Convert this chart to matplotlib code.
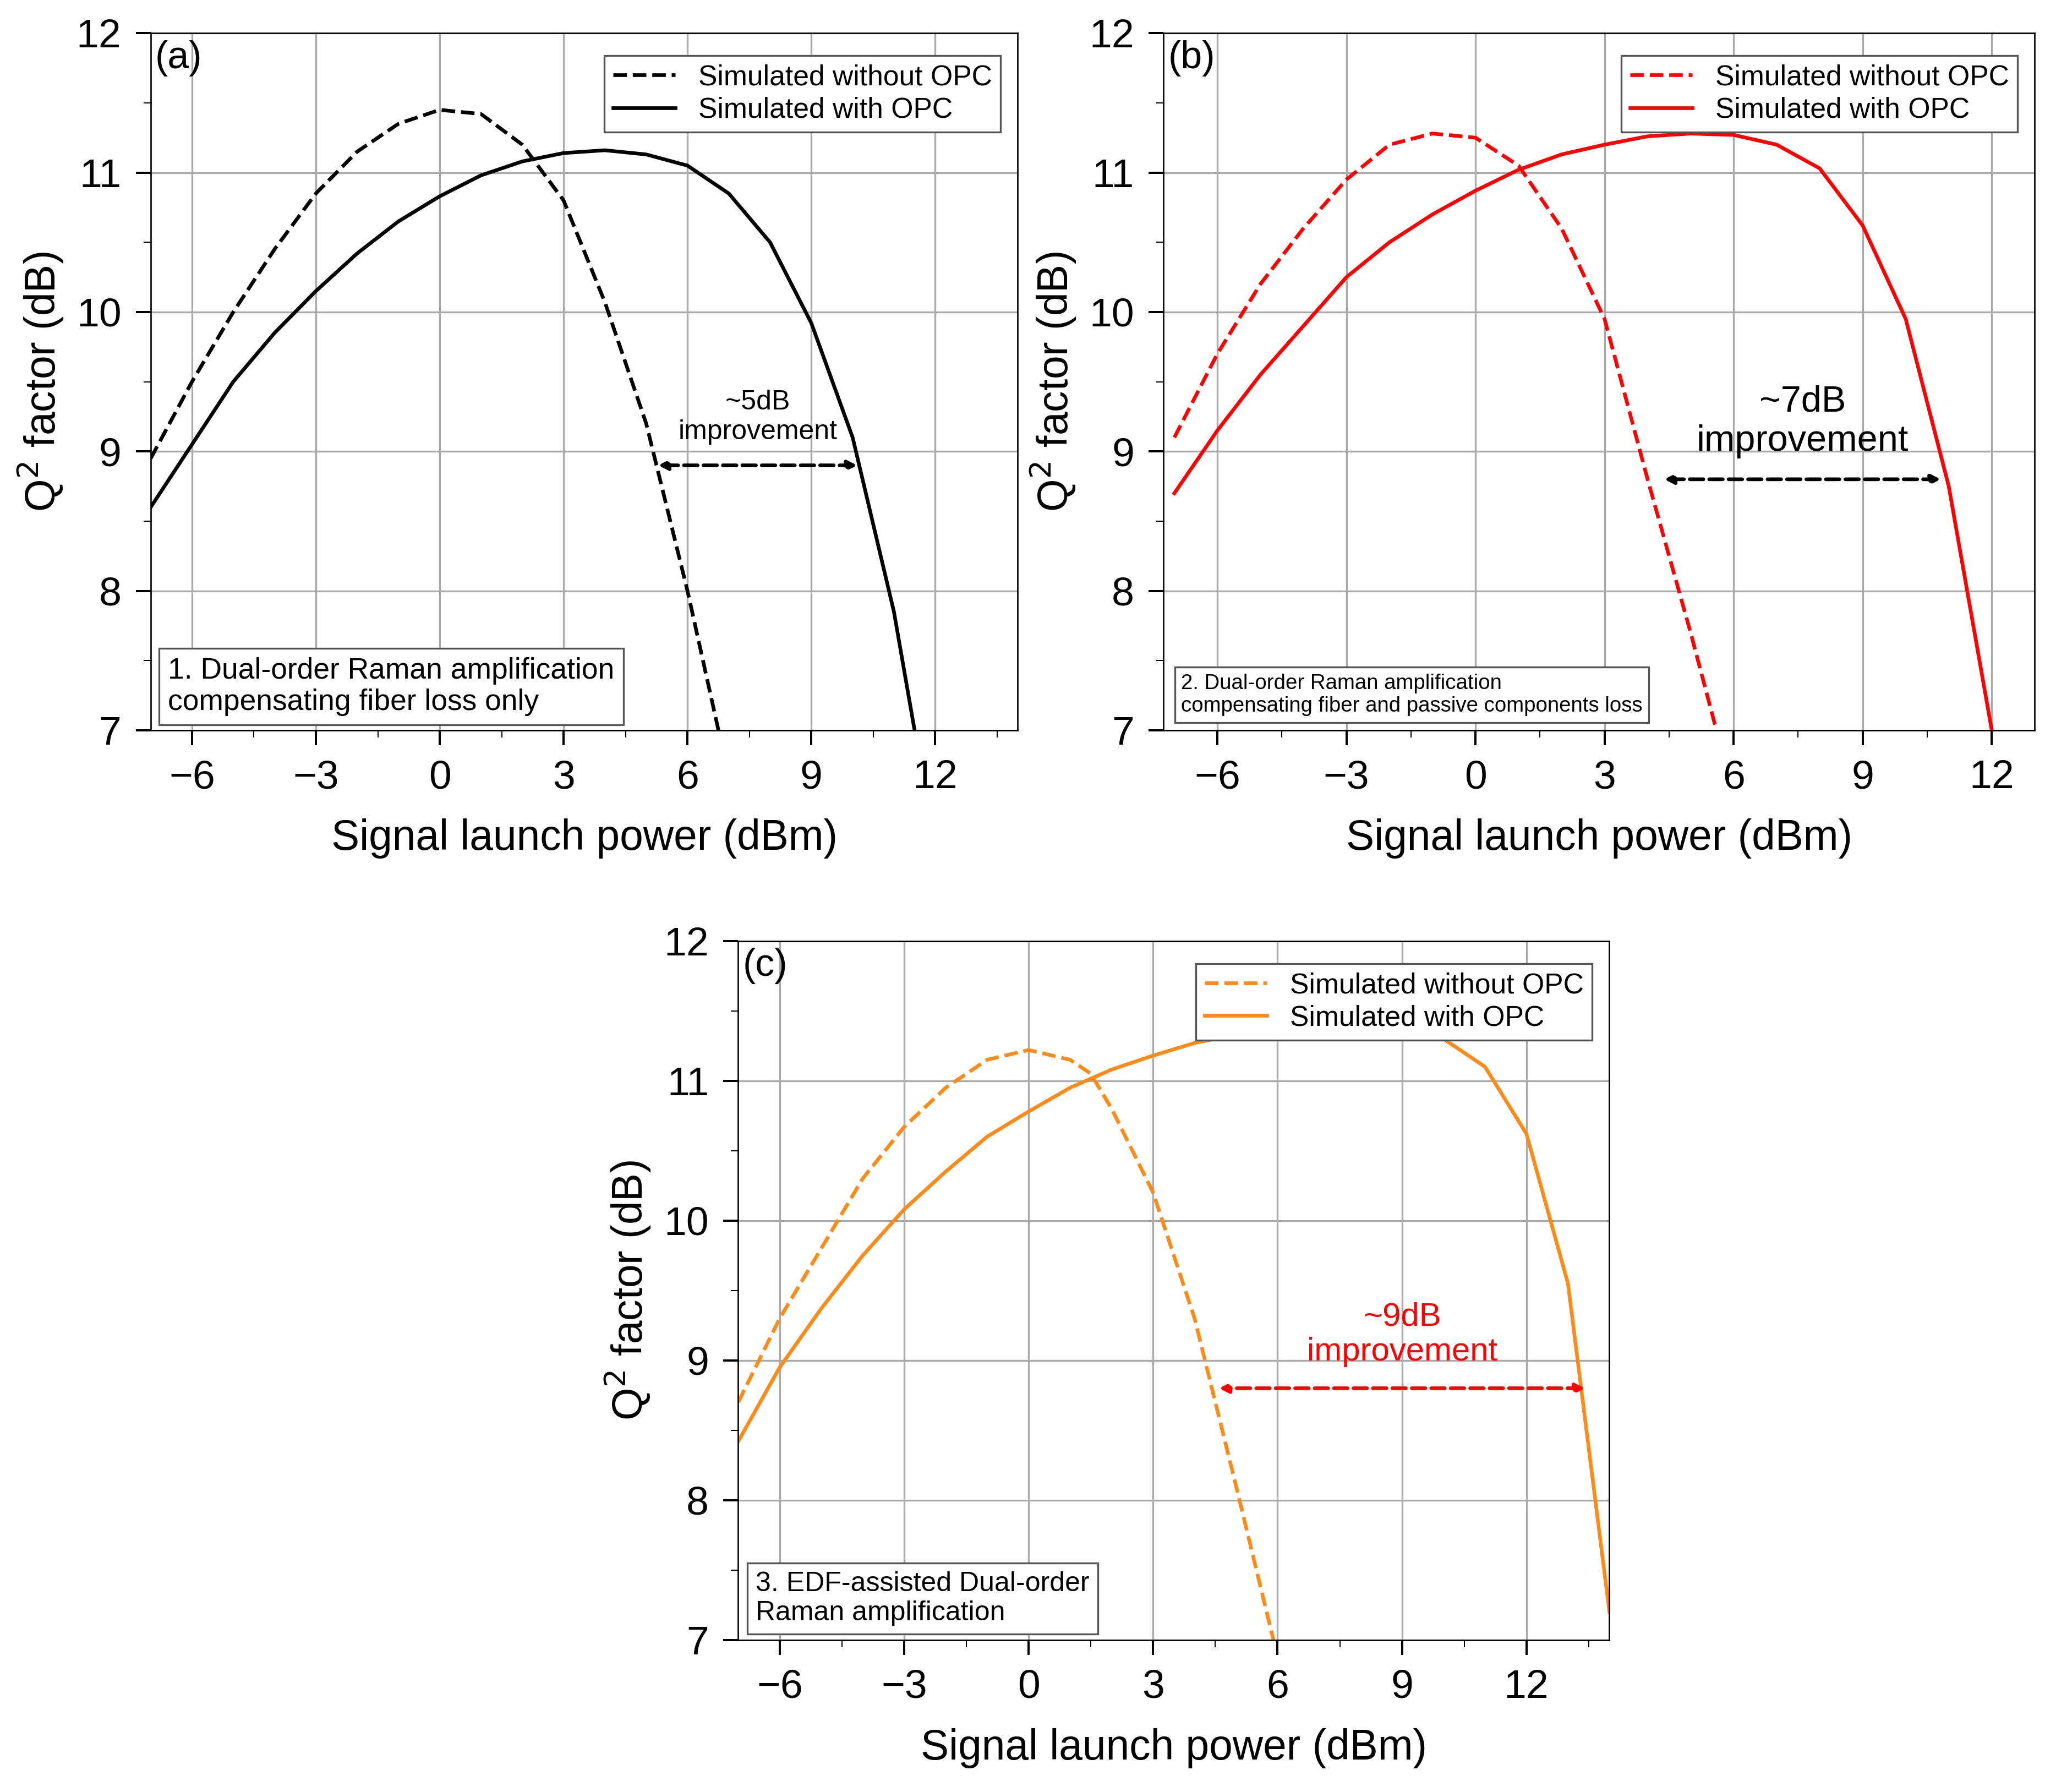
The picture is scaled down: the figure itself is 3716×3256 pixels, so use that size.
import numpy as np
import matplotlib.pyplot as plt
from matplotlib.ticker import MultipleLocator

plt.rcParams['font.family'] = ['Arial', 'Liberation Sans', 'DejaVu Sans']

# (a) 단일 패널 데이터
xa_wo = [-7, -6, -5, -4, -3, -2, -1, 0, 1, 2, 3, 4, 5, 6, 6.75]
ya_wo = [8.95, 9.5, 10.0, 10.45, 10.85, 11.15, 11.35, 11.45, 11.42, 11.2, 10.8, 10.07, 9.2, 8.0, 7.0]
xa_w = [-7, -6, -5, -4, -3, -2, -1, 0, 1, 2, 3, 4, 5, 6, 7, 8, 9, 10, 11, 11.5]
ya_w = [8.6, 9.05, 9.5, 9.85, 10.15, 10.42, 10.65, 10.83, 10.98, 11.08, 11.14, 11.16, 11.13,
        11.05, 10.85, 10.5, 9.92, 9.1, 7.85, 7.0]

# (b)
xb_wo = [-7, -6, -5, -4, -3, -2, -1, 0, 1, 2, 3, 4, 5, 5.6]
yb_wo = [9.1, 9.7, 10.2, 10.6, 10.95, 11.2, 11.28, 11.25, 11.05, 10.6, 9.95, 8.8, 7.7, 7.0]
xb_w = [-7, -6, -5, -4, -3, -2, -1, 0, 1, 2, 3, 4, 5, 6, 7, 8, 9, 10, 11, 12]
yb_w = [8.7, 9.15, 9.55, 9.9, 10.25, 10.5, 10.7, 10.87, 11.02, 11.13, 11.2, 11.26, 11.28,
        11.27, 11.2, 11.03, 10.62, 9.95, 8.75, 7.0]

# (c)
xc_wo = [-7, -6, -5, -4, -3, -2, -1, 0, 1, 1.5, 2, 3, 4, 5, 5.9]
yc_wo = [8.7, 9.3, 9.8, 10.3, 10.67, 10.95, 11.15, 11.22, 11.15, 11.05, 10.8, 10.2, 9.3, 8.1, 7.0]
xc_w = [-7, -6, -5, -4, -3, -2, -1, 0, 1, 2, 3, 4, 5, 6, 7, 8, 9, 10, 11, 12, 13, 14]
yc_w = [8.42, 8.95, 9.37, 9.75, 10.08, 10.35, 10.6, 10.78, 10.95, 11.08, 11.18, 11.27, 11.33,
        11.38, 11.41, 11.42, 11.4, 11.3, 11.1, 10.62, 9.55, 7.2]

fig = plt.figure(figsize=(3716 / 240, 3256 / 240), dpi=240)

panels = [
    ([0.0737, 0.5925, 0.424, 0.389], (-7, 14), 'black', xa_wo, ya_wo, xa_w, ya_w, '(a)',
     '1. Dual-order Raman amplification\ncompensating fiber loss only', 16,
     (5.2, 10.2, 8.9), '~5dB\nimprovement', 15, 'black'),
    ([0.569, 0.5925, 0.426, 0.389], (-7.25, 13), 'red', xb_wo, yb_wo, xb_w, yb_w, '(b)',
     '2. Dual-order Raman amplification\ncompensating fiber and passive components loss', 11.5,
     (4.3, 10.9, 8.8), '~7dB\nimprovement', 20, 'black'),
    ([0.361, 0.0849, 0.426, 0.39], (-7, 14), '#ff8c1a', xc_wo, yc_wo, xc_w, yc_w, '(c)',
     '3. EDF-assisted Dual-order\nRaman amplification', 15,
     (4.5, 13.5, 8.8), '~9dB\nimprovement', 18, 'red'),
]

for pos, xlim, col, x1, y1, x2, y2, tag, box, bfs, arr, atxt, afs, acol in panels:
    ax = fig.add_axes(pos)
    ax.plot(x1, y1, '--', color=col, lw=2, label='Simulated without OPC')
    ax.plot(x2, y2, '-', color=col, lw=2, label='Simulated with OPC')
    ax.set_xlim(*xlim)
    ax.set_ylim(7, 12)
    ax.xaxis.set_major_locator(MultipleLocator(3))
    ax.xaxis.set_minor_locator(MultipleLocator(1.5))
    ax.yaxis.set_major_locator(MultipleLocator(1))
    ax.yaxis.set_minor_locator(MultipleLocator(0.5))
    ax.grid(True, which='major', color='#aaaaaa', lw=1)
    ax.tick_params(which='major', labelsize=22, length=8, width=1.2, pad=8)
    ax.tick_params(which='minor', length=4)
    ax.set_xlabel('Signal launch power (dBm)', fontsize=23, labelpad=12)
    ax.set_ylabel('Q$^2$ factor (dB)', fontsize=23, labelpad=6)
    ax.text(0.005, 0.99, tag, transform=ax.transAxes, fontsize=21, va='top')
    ax.legend(loc='upper right', fontsize=15.5, fancybox=False, framealpha=1,
              edgecolor='#555555', handlelength=2.2, borderpad=0.3, labelspacing=0.2,
              borderaxespad=0.3, bbox_to_anchor=(0.99, 0.98))
    ax.text(0.02, 0.02, box, transform=ax.transAxes, fontsize=bfs, va='bottom',
            bbox=dict(boxstyle='square,pad=0.3', fc='white', ec='#555555'))
    ax.annotate('', xy=(arr[0], arr[2]), xytext=(arr[1], arr[2]),
                arrowprops=dict(arrowstyle='<|-|>', ls='--', color=acol, lw=2))
    ax.text((arr[0] + arr[1]) / 2, arr[2] + 0.15, atxt, ha='center', va='bottom',
            fontsize=afs, color=acol)

fig.savefig('out.png', dpi=240)
